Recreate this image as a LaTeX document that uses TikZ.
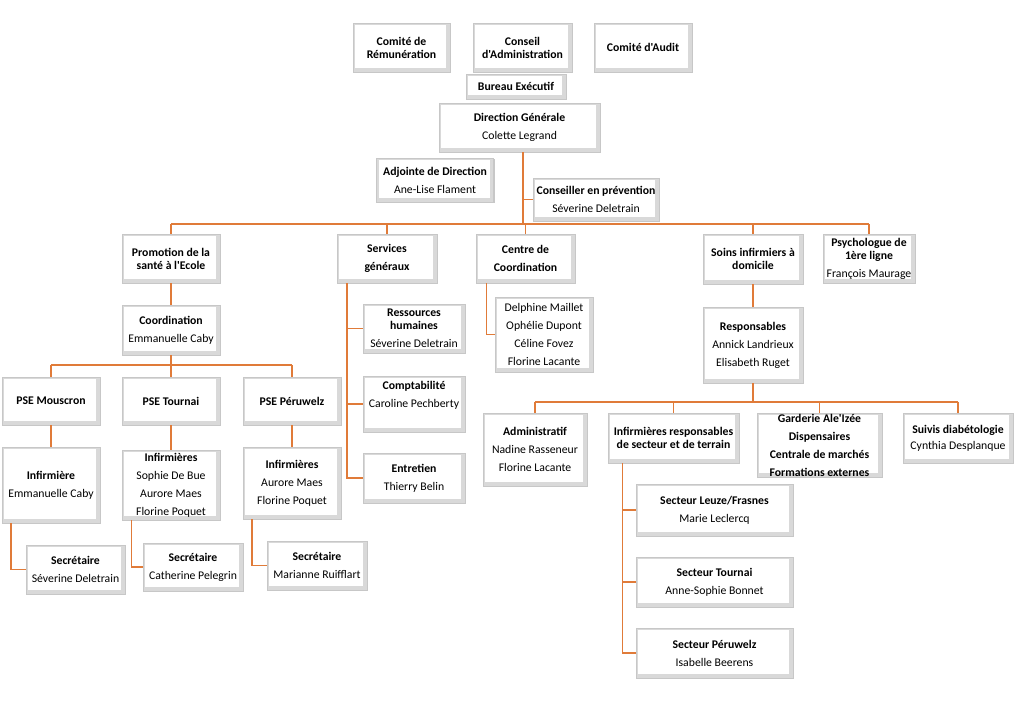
\documentclass[tikz,border=0pt]{standalone}
\usepackage{fontspec}
\setmainfont{Carlito}[Ligatures=TeXOff]
\usetikzlibrary{shadows}
\definecolor{lineor}{HTML}{E07B39}
\pgfdeclarelayer{background}
\pgfsetlayers{background,main}
\newcommand\boxfont{\fontsize{8.8}{9.75}\selectfont}
\newcommand\lsk{\\[3.75pt]}
\begin{document}
\begin{tikzpicture}[x=0.75pt,y=-0.75pt,
  box/.style={draw=black!22, fill=black!15, inner sep=0pt, align=center, font=\boxfont,
    path picture={\fill[white] ([shift={(1.6pt,3pt)}]path picture bounding box.south west) rectangle ([shift={(-3pt,-1.4pt)}]path picture bounding box.north east);},
    drop shadow={shadow xshift=1.1pt, shadow yshift=-1.1pt, opacity=0.22, fill=black}},
  bx/.style 2 args={minimum width=#1*0.75pt, minimum height=#2*0.75pt},
  conn/.style={draw=lineor, line width=0.8pt}]
\fill[white] (0,0) rectangle (1024,700);
\useasboundingbox (0,0) rectangle (1024,700);

% top level
\node[box,bx={97}{49}] (rem) at (401.5,47.5) {\textbf{Comité de}\\\textbf{Rémunération}};
\node[box,bx={99}{49}] (ca) at (522.5,47.5) {\textbf{Conseil}\\\textbf{d'Administration}};
\node[box,bx={98}{49}] (audit) at (643,47.5) {\textbf{Comité d'Audit}};
\node[box,bx={100}{25}] (bureau) at (516,86.5) {\textbf{Bureau Exécutif}};
\node[box,bx={161}{49}] (dir) at (519.5,127.5) {\textbf{Direction Générale}\lsk Colette Legrand};
\node[box,bx={117}{44}] (adj) at (435,180) {\textbf{Adjointe de Direction}\lsk Ane-Lise Flament};
\node[box,bx={126}{43}] (cons) at (596,199.5) {\textbf{Conseiller en prévention}\lsk Séverine Deletrain};

% level 2
\node[box,bx={98}{49}] (promo) at (171,258.5) {\textbf{Promotion de la}\\\textbf{santé à l'Ecole}};
\node[box,bx={100}{49}] (serv) at (387,258.5) {\textbf{Services}\lsk\textbf{généraux}};
\node[box,bx={99}{49}] (centre) at (525.5,258.5) {\textbf{Centre de}\lsk\textbf{Coordination}};
\node[box,bx={100}{50}] (soins) at (753,259) {\textbf{Soins infirmiers à}\\\textbf{domicile}};
\node[box,bx={92}{49}] (psy) at (869,258.5) {\textbf{Psychologue de}\\\textbf{1ère ligne}\lsk François Maurage};

% under Centre
\node[box,bx={98}{75}] (clist) at (544,334.5) {Delphine Maillet\lsk Ophélie Dupont\lsk Céline Fovez\lsk Florine Lacante};

% under Promotion
\node[box,bx={98}{50}] (coord) at (171,330) {\textbf{Coordination}\lsk Emmanuelle Caby};
\node[box,bx={98}{48}] (mous) at (51,401) {\textbf{PSE Mouscron}};
\node[box,bx={98}{48}] (tour) at (171,401) {\textbf{PSE Tournai}};
\node[box,bx={98}{48}] (peru) at (292,401) {\textbf{PSE Péruwelz}};
\node[box,bx={98}{76}] (infm) at (51,485) {\textbf{Infirmière}\lsk Emmanuelle Caby};
\node[box,bx={98}{70}] (inft) at (171,485) {\textbf{Infirmières}\lsk Sophie De Bue\lsk Aurore Maes\lsk Florine Poquet};
\node[box,bx={98}{72}] (infp) at (292,483) {\textbf{Infirmières}\lsk Aurore Maes\lsk Florine Poquet};
\node[box,bx={99}{49}] (secm) at (75.5,569.5) {\textbf{Secrétaire}\lsk Séverine Deletrain};
\node[box,bx={100}{48}] (sect) at (193,567) {\textbf{Secrétaire}\lsk Catherine Pelegrin};
\node[box,bx={100}{49}] (secp) at (317,565.5) {\textbf{Secrétaire}\lsk Marianne Ruifflart};

% under Services
\node[box,bx={102}{49}] (rh) at (414,328.5) {\textbf{Ressources}\\\textbf{humaines}\lsk Séverine Deletrain};
\node[box,bx={102}{56}] (compta) at (414,404) {\textbf{Comptabilité}\lsk Caroline Pechberty\\[5pt]\mbox{}};
\node[box,bx={102}{50}] (entretien) at (414,478) {\textbf{Entretien}\lsk Thierry Belin};

% under Soins
\node[box,bx={100}{76}] (resp) at (753,345) {\textbf{Responsables}\lsk Annick Landrieux\lsk Elisabeth Ruget};
\node[box,bx={104}{73}] (admin) at (535,449.5) {\textbf{Administratif}\lsk Nadine Rasseneur\lsk Florine Lacante};
\node[box,bx={131}{50}] (infres) at (673.5,438) {\textbf{Infirmières responsables}\\\textbf{de secteur et de terrain}};
\node[box,bx={125}{64}] (garderie) at (819.5,445) {\textbf{Garderie Ale'Izée}\lsk\textbf{Dispensaires}\lsk\textbf{Centrale de marchés}\lsk\textbf{Formations externes}};
\node[box,bx={110}{50}] (suivis) at (958,438) {\textbf{Suivis diabétologie}\\[2pt] Cynthia Desplanque};
\node[box,bx={157}{52}] (s1) at (714.5,510) {\textbf{Secteur Leuze/Frasnes}\lsk Marie Leclercq};
\node[box,bx={157}{50}] (s2) at (714.5,582) {\textbf{Secteur Tournai}\lsk Anne-Sophie Bonnet};
\node[box,bx={157}{50}] (s3) at (714.5,653) {\textbf{Secteur Péruwelz}\lsk Isabelle Beerens};

\coordinate (bus1) at (523,224);
\coordinate (bus2) at (171,365);
\coordinate (bus3) at (753,402);

\begin{pgfonlayer}{background}
  \draw[conn] (ca.south) -- (dir.north);
  \draw[conn] (ca.south) -- ([xshift=34.5pt]dir.north);
\end{pgfonlayer}

% main trunk
\draw[conn] (bus1 |- dir.south) -- (bus1);
\draw[conn] (bus1 |- cons.west) -- (cons.west);
\draw[conn] (promo.north |- bus1) -- (psy.north |- bus1);
\draw[conn] (promo.north |- bus1) -- (promo.north);
\draw[conn] (serv.north |- bus1) -- (serv.north);
\draw[conn] (centre.north |- bus1) -- (centre.north);
\draw[conn] (soins.north |- bus1) -- (soins.north);
\draw[conn] (psy.north |- bus1) -- (psy.north);

% Centre
\draw[conn] ([xshift=-29.6pt]centre.south) |- (clist.west);

% Services
\draw[conn] ([xshift=-30pt]serv.south) |- (rh.west);
\draw[conn] ([xshift=-30pt]serv.south) |- (compta.west);
\draw[conn] ([xshift=-30pt]serv.south) |- (entretien.west);

% Promotion
\draw[conn] (promo.south) -- (coord.north);
\draw[conn] (coord.south) -- (bus2);
\draw[conn] (mous.north |- bus2) -- (peru.north |- bus2);
\draw[conn] (mous.north |- bus2) -- (mous.north);
\draw[conn] (tour.north |- bus2) -- (tour.north);
\draw[conn] (peru.north |- bus2) -- (peru.north);
\draw[conn] (mous.south) -- (infm.north);
\draw[conn] (tour.south) -- (inft.north);
\draw[conn] (peru.south) -- (infp.north);
\draw[conn] ([xshift=-30pt]infm.south) |- (secm.west);
\draw[conn] ([xshift=-29.3pt]inft.south) |- (sect.west);
\draw[conn] ([xshift=-30pt]infp.south) |- (secp.west);

% Soins
\draw[conn] (soins.south) -- (resp.north);
\draw[conn] (resp.south) -- (bus3);
\draw[conn] (admin.north |- bus3) -- (suivis.north |- bus3);
\draw[conn] (admin.north |- bus3) -- (admin.north);
\draw[conn] (infres.north |- bus3) -- (infres.north);
\draw[conn] (garderie.north |- bus3) -- (garderie.north);
\draw[conn] (suivis.north |- bus3) -- (suivis.north);
\draw[conn] ([xshift=-38.6pt]infres.south) |- (s1.west);
\draw[conn] ([xshift=-38.6pt]infres.south) |- (s2.west);
\draw[conn] ([xshift=-38.6pt]infres.south) |- (s3.west);
\end{tikzpicture}
\end{document}
